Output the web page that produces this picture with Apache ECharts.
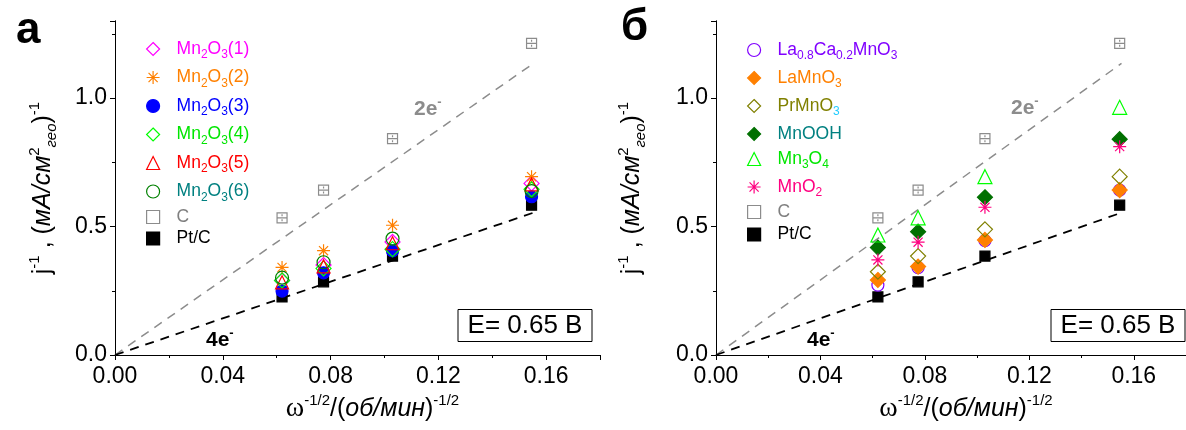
<!DOCTYPE html>
<html><head><meta charset="utf-8">
<script src="https://cdn.jsdelivr.net/npm/echarts@6/dist/echarts.min.js"></script>
<style>html,body{margin:0;padding:0;background:#fff}#c{width:1186px;height:430px}</style>
</head><body><div id="c"></div>
<script>
// ---------- data ----------
const xVals = [0.062, 0.0774, 0.103, 0.1546];
// panel а
const ptc = [0.226, 0.285, 0.385, 0.583];
const carbon = [0.534, 0.642, 0.842, 1.213];
const mn2o3_1 = [0.290, 0.350, 0.440, 0.668];
const mn2o3_2 = [0.341, 0.406, 0.505, 0.694];
const mn2o3_3 = [0.249, 0.320, 0.405, 0.616];
const mn2o3_4 = [0.290, 0.337, 0.412, 0.645];
const mn2o3_5 = [0.283, 0.345, 0.435, 0.664];
const mn2o3_6 = [0.301, 0.361, 0.453, 0.638];
// panel б
const lcmo = [0.272, 0.340, 0.445, 0.642];
const lamno3 = [0.292, 0.344, 0.448, 0.642];
const prmno3 = [0.324, 0.385, 0.489, 0.694];
const mnooh = [0.418, 0.480, 0.614, 0.840];
const mn3o4 = [0.467, 0.534, 0.694, 0.964];
const mno2 = [0.370, 0.439, 0.575, 0.811];
// theoretical lines
const line2eX = [0, 0.1553], line2eY = [0, 1.135];
const line4eX = [0, 0.1553], line4eY = [0, 0.554];
// tick labels
const xTickLabels = ['0.00', '0.04', '0.08', '0.12', '0.16'];
const yTickLabels = ['0.0', '0.5', '1.0'];

// ---------- styling ----------
const F = 'Liberation Sans';
const STAR = 'path://M5,0L5,10M0,5L10,5M1.5,1.5L8.5,8.5M8.5,1.5L1.5,8.5';
const CSYM = 'path://M0,0L10,0L10,10L0,10ZM0,5L10,5M5,1.5L5,3.5M5,6.5L5,8.5';
const NONE = 'rgba(0,0,0,0)';

const axisRich = {
  n: {fontSize: 25, fontFamily: F, color: '#000', lineHeight: 32},
  i: {fontSize: 25, fontFamily: F, color: '#000', fontStyle: 'italic', lineHeight: 32},
  w: {fontSize: 28, fontFamily: 'Liberation Serif', color: '#000', lineHeight: 32},
  sup: {fontSize: 15, fontFamily: F, color: '#000', verticalAlign: 'top'},
  subi: {fontSize: 15, fontFamily: F, color: '#000', fontStyle: 'italic', verticalAlign: 'bottom'}
};
const yName = '{n|j}{sup|-1}{n| , (}{i|мА/см}{sup|2}{subi|гео}{n|)}{sup|-1}';
const xName = '{w|ω}{sup|-1/2}{n|/(}{i|об/мин}{n|)}{sup|-1/2}';

const legRich = {
  g: {width: 12},
  n: {fontSize: 17.5, fontFamily: F, lineHeight: 24},
  s: {fontSize: 12, fontFamily: F, verticalAlign: 'bottom'},
  sc: {fontSize: 12, fontFamily: F, verticalAlign: 'bottom', color: '#22ccff'}
};
const legendLabels = {
  'a1': '{g| }{n|Mn}{s|2}{n|O}{s|3}{n|(1)}',
  'a2': '{g| }{n|Mn}{s|2}{n|O}{s|3}{n|(2)}',
  'a3': '{g| }{n|Mn}{s|2}{n|O}{s|3}{n|(3)}',
  'a4': '{g| }{n|Mn}{s|2}{n|O}{s|3}{n|(4)}',
  'a5': '{g| }{n|Mn}{s|2}{n|O}{s|3}{n|(5)}',
  'a6': '{g| }{n|Mn}{s|2}{n|O}{s|3}{n|(6)}',
  'aC': '{g| }{n|C}', 'aP': '{g| }{n|Pt/C}',
  'b1': '{g| }{n|La}{s|0.8}{n|Ca}{s|0.2}{n|MnO}{s|3}',
  'b2': '{g| }{n|LaMnO}{s|3}',
  'b3': '{g| }{n|PrMnO}{sc|3}',
  'b4': '{g| }{n|MnOOH}',
  'b5': '{g| }{n|Mn}{s|3}{n|O}{s|4}',
  'b6': '{g| }{n|MnO}{s|2}',
  'bC': '{g| }{n|C}', 'bP': '{g| }{n|Pt/C}'
};

function xAxes(g) {
  const base = {type: 'value', gridIndex: g, min: 0, max: 0.18, splitLine: {show: false}, silent: true};
  const ln = {show: true, lineStyle: {color: '#000', width: 1}};
  return [
    Object.assign({}, base, {position: 'bottom', interval: 0.04, axisLine: ln,
      axisTick: {show: true, inside: false, length: 5, lineStyle: {color: '#000'}},
      axisLabel: {show: true, fontSize: 23, fontFamily: F, color: '#000', margin: 10, showMaxLabel: false,
        formatter: v => xTickLabels[Math.round(v / 0.04)] || ''},
      name: xName, nameLocation: 'middle', nameGap: 36, nameTextStyle: {rich: axisRich, padding: [0, 0, 0, 30]}}),
    Object.assign({}, base, {position: 'bottom', interval: 0.02, axisLine: {show: false},
      axisTick: {show: true, inside: false, length: 3, lineStyle: {color: '#000'}}, axisLabel: {show: false}}),
    Object.assign({}, base, {position: 'top', interval: 0.04, axisLine: ln,
      axisTick: {show: true, inside: true, length: 5, lineStyle: {color: '#000'}}, axisLabel: {show: false}}),
    Object.assign({}, base, {position: 'top', interval: 0.02, axisLine: {show: false},
      axisTick: {show: true, inside: true, length: 3, lineStyle: {color: '#000'}}, axisLabel: {show: false}})
  ];
}
function yAxes(g, gap) {
  const base = {type: 'value', gridIndex: g, min: 0, max: 1.3, splitLine: {show: false}, silent: true};
  const ln = {show: true, lineStyle: {color: '#000', width: 1}};
  return [
    Object.assign({}, base, {position: 'left', interval: 0.5, axisLine: ln,
      axisTick: {show: true, inside: false, length: 5, lineStyle: {color: '#000'}},
      axisLabel: {show: true, fontSize: 23, fontFamily: F, color: '#000', margin: 8, showMaxLabel: false,
        formatter: v => yTickLabels[Math.round(v / 0.5)] || ''},
      name: yName, nameLocation: 'middle', nameGap: gap, nameRotate: 90, nameTextStyle: {rich: axisRich}}),
    Object.assign({}, base, {position: 'left', interval: 0.25, axisLine: {show: false},
      axisTick: {show: true, inside: false, length: 3, lineStyle: {color: '#000'}}, axisLabel: {show: false}}),
    Object.assign({}, base, {position: 'right', interval: 0.5, axisLine: ln,
      axisTick: {show: true, inside: true, length: 5, lineStyle: {color: '#000'}}, axisLabel: {show: false}}),
    Object.assign({}, base, {position: 'right', interval: 0.25, axisLine: {show: false},
      axisTick: {show: true, inside: true, length: 3, lineStyle: {color: '#000'}}, axisLabel: {show: false}})
  ];
}

function sc(name, g, ys, symbol, size, fill, stroke) {
  return {type: 'scatter', name: name, xAxisIndex: g * 4, yAxisIndex: g * 4,
    data: xVals.map((x, i) => [x, ys[i]]), symbol: symbol, symbolSize: size,
    itemStyle: {color: fill, borderColor: stroke, borderWidth: 1.2, opacity: 1}, silent: true};
}
function ln(g, xs, ys, color, width, dash) {
  return {type: 'line', xAxisIndex: g * 4, yAxisIndex: g * 4, data: xs.map((x, i) => [x, ys[i]]),
    symbol: 'none', lineStyle: {color: color, width: width, type: dash}, silent: true, z: 1};
}

const series = [
  ln(0, line2eX, line2eY, '#8c8c8c', 1.5, [9, 7]),
  ln(0, line4eX, line4eY, '#000', 1.8, [9, 7]),
  ln(1, line2eX, line2eY, '#8c8c8c', 1.5, [9, 7]),
  ln(1, line4eX, line4eY, '#000', 1.8, [9, 7]),
  sc('aP', 0, ptc, 'rect', 10, '#000', '#000'),
  sc('aC', 0, carbon, CSYM, 10, NONE, '#8c8c8c'),
  sc('a1', 0, mn2o3_1, 'diamond', 15, NONE, '#ff00ff'),
  sc('a2', 0, mn2o3_2, STAR, 13, NONE, '#ff8000'),
  sc('a3', 0, mn2o3_3, 'circle', 12, '#0000ff', '#0000ff'),
  sc('a4', 0, mn2o3_4, 'diamond', 15, NONE, '#00ff00'),
  sc('a5', 0, mn2o3_5, 'triangle', 13, NONE, '#ff0000'),
  sc('a6', 0, mn2o3_6, 'circle', 13, NONE, '#008000'),
  sc('bP', 1, ptc, 'rect', 10, '#000', '#000'),
  sc('bC', 1, carbon, CSYM, 10, NONE, '#8c8c8c'),
  sc('b1', 1, lcmo, 'circle', 12, NONE, '#8000ff'),
  sc('b2', 1, lamno3, 'diamond', 15, '#ff8000', '#ff8000'),
  sc('b3', 1, prmno3, 'diamond', 15, NONE, '#808000'),
  sc('b4', 1, mnooh, 'diamond', 15, '#007000', '#007000'),
  sc('b5', 1, mn3o4, 'triangle', 14, NONE, '#00ff00'),
  sc('b6', 1, mno2, STAR, 13, NONE, '#ff0080')
];

function legItem(name, color, icon) {
  const o = {name: name, textStyle: {color: color, rich: legRich}};
  if (icon) o.icon = icon;
  return o;
}
function legend(left, top, gap, items) {
  return {orient: 'vertical', left: left, top: top, itemGap: gap, padding: 0,
    itemWidth: 13, itemHeight: 13, selectedMode: false,
    itemStyle: {borderWidth: 1.2},
    textStyle: {fontSize: 17.5, fontFamily: F, rich: legRich},
    formatter: n => legendLabels[n], data: items};
}

const legends = [
  legend(146, 40, 7.5, [legItem('a1', '#ff00ff'), legItem('a2', '#ff8000'), legItem('a3', '#0000ff'),
    legItem('a4', '#00e600'), legItem('a5', '#ff0000'), legItem('a6', '#008080')]),
  legend(146, 208, 3.5, [legItem('aC', '#808080', 'rect'), legItem('aP', '#000')]),
  legend(747, 41, 7, [legItem('b1', '#8000ff'), legItem('b2', '#ff8000'), legItem('b3', '#808000'),
    legItem('b4', '#008080'), legItem('b5', '#00e600'), legItem('b6', '#ff0080')]),
  legend(747, 203, 4.5, [legItem('bC', '#808080', 'rect'), legItem('bP', '#000')])
];

const annRich = {
  b: {fontSize: 21, fontWeight: 'bold', fontFamily: F, lineHeight: 26},
  sp: {fontSize: 13, fontWeight: 'bold', fontFamily: F, verticalAlign: 'top'}
};
function eLabel(x, y, txt, color) {
  return {type: 'text', x: x, y: y, z: 50, style: {text: txt, rich: annRich, fill: color, verticalAlign: 'middle'}};
}
function eBox(x) {
  return [
    {type: 'rect', shape: {x: x, y: 309.5, width: 134, height: 32}, z: 40,
      style: {fill: '#fff', stroke: '#000', lineWidth: 1}},
    {type: 'text', x: x + 67, y: 326, z: 41,
      style: {text: 'E= 0.65 В', font: '26px "Liberation Sans"', fill: '#000', align: 'center', verticalAlign: 'middle'}}
  ];
}

const option = {
  animation: false,
  backgroundColor: '#fff',
  grid: [
    {left: 115, right: 586, top: 21, bottom: 75},
    {left: 716, right: -7, top: 21, bottom: 75}
  ],
  xAxis: xAxes(0).concat(xAxes(1)),
  yAxis: yAxes(0, 56).concat(yAxes(1, 68)),
  legend: legends,
  series: series,
  graphic: [
    {type: 'text', x: 16, y: 31, z: 50, style: {text: 'а', font: 'bold 44px "Liberation Sans"', fill: '#000', verticalAlign: 'middle'}},
    {type: 'text', x: 621, y: 28, z: 50, style: {text: 'б', font: 'bold 44px "Liberation Sans"', fill: '#000', verticalAlign: 'middle'}},
    eLabel(414, 109, '{b|2e}{sp|-}', '#8c8c8c'),
    eLabel(1011, 108, '{b|2e}{sp|-}', '#8c8c8c'),
    eLabel(206, 340, '{b|4e}{sp|-}', '#000'),
    eLabel(807, 340, '{b|4e}{sp|-}', '#000')
  ].concat(eBox(458), eBox(1051))
};

const chart = echarts.init(document.getElementById('c'), null, {renderer: 'canvas'});
chart.setOption(option);
</script>
</body></html>
